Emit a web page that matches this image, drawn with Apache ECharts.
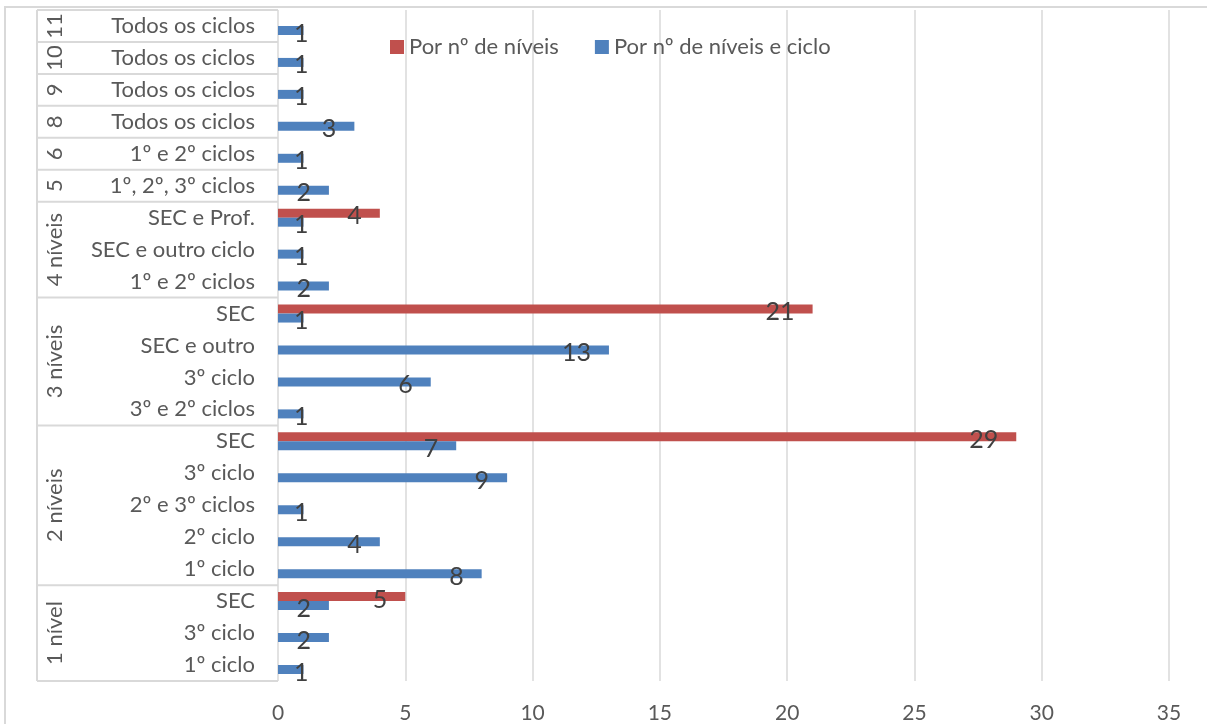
<!DOCTYPE html>
<html>
<head>
<meta charset="utf-8">
<script src="https://cdn.jsdelivr.net/npm/echarts@6/dist/echarts.min.js"></script>
<style>
  html, body { margin: 0; padding: 0; background: #fff; }
  #main { width: 1207px; height: 724px; }
</style>
</head>
<body>
<div id="main"></div>
<script>
  // grupos (nível de cima do eixo) e categorias, de baixo para cima
  const groupLabels = ['1 nível', '2 níveis', '3 níveis', '4 níveis', '5', '6', '8', '9', '10', '11'];
  const groupSizes = [3, 5, 4, 3, 1, 1, 1, 1, 1, 1];
  const subCategories = [
    '1º ciclo', '3º ciclo', 'SEC',
    '1º ciclo', '2º ciclo', '2º e 3º ciclos', '3º ciclo', 'SEC',
    '3º e 2º ciclos', '3º ciclo', 'SEC e outro', 'SEC',
    '1º e 2º ciclos', 'SEC e outro ciclo', 'SEC e Prof.',
    '1º, 2º, 3º ciclos', '1º e 2º ciclos',
    'Todos os ciclos', 'Todos os ciclos', 'Todos os ciclos', 'Todos os ciclos'
  ];
  const seriesNames = ['Por nº de níveis', 'Por nº de níveis e ciclo'];
  const byLevel = [null, null, 5, null, null, null, null, 29, null, null, null, 21, null, null, 4, null, null, null, null, null, null];
  const byLevelCycle = [1, 2, 2, 8, 4, 1, 9, 7, 1, 6, 13, 1, 2, 1, 1, 2, 1, 3, 1, 1, 1];
  const xTicks = { min: 0, max: 35, interval: 5 };

  const FONT = 'Lato';
  const TXT = '#595959';
  const LINE = '#d9d9d9';
  const gridLeft = 278;
  const labelCol = 241;

  // chaves únicas para o eixo de categorias (há nomes repetidos)
  const keys = subCategories.map((s, i) => i + '|' + s);

  const chart = echarts.init(document.getElementById('main'));

  const dataLabel = {
    show: true,
    position: ['100%', '50%'],
    align: 'right',
    verticalAlign: 'middle',
    offset: [-18, 3],
    fontFamily: FONT,
    fontSize: 25,
    color: '#404040'
  };
  const withLabelFix = arr => arr.map(v => v === 1 ? { value: v, label: { offset: [5, 3] } } : v);

  chart.setOption({
    animation: false,
    textStyle: { fontFamily: FONT },
    legend: {
      data: seriesNames,
      left: 385,
      top: 31,
      icon: 'rect',
      itemWidth: 14,
      itemHeight: 14,
      itemGap: 36,
      textStyle: { fontFamily: FONT, fontSize: 22, color: TXT }
    },
    grid: { left: gridLeft, right: 38, top: 10, bottom: 42, containLabel: false },
    xAxis: {
      type: 'value',
      min: xTicks.min,
      max: xTicks.max,
      interval: xTicks.interval,
      axisLine: { show: false },
      axisTick: { show: false },
      axisLabel: { fontFamily: FONT, fontSize: 21, color: TXT, margin: 22 },
      splitLine: { lineStyle: { color: LINE, width: 1.5 } }
    },
    yAxis: {
      type: 'category',
      data: keys,
      axisLine: { show: false },
      axisTick: { show: false },
      axisLabel: {
        fontFamily: FONT, fontSize: 22, color: TXT, margin: 23,
        formatter: v => v.split('|')[1]
      }
    },
    series: [
      {
        name: seriesNames[0],
        type: 'bar',
        data: byLevel,
        barWidth: 9,
        barGap: '0%',
        itemStyle: { color: '#c0504d' },
        label: dataLabel
      },
      {
        name: seriesNames[1],
        type: 'bar',
        data: withLabelFix(byLevelCycle),
        barWidth: 9,
        barGap: '0%',
        itemStyle: { color: '#4f81bd' },
        label: dataLabel
      }
    ]
  });

  // nível de grupos do eixo: linhas separadoras e rótulos rodados
  const yOf = i => chart.convertToPixel({ yAxisIndex: 0 }, keys[i]);
  const band = Math.abs(yOf(0) - yOf(1));
  const colX = gridLeft - labelCol;
  const topY = yOf(keys.length - 1) - band / 2;
  const botY = yOf(0) + band / 2;
  const graphics = [
    { type: 'rect', shape: { x: 5, y: 7, width: 1400, height: 900 }, style: { fill: null, stroke: LINE, lineWidth: 2 }, silent: true },
    { type: 'line', shape: { x1: colX, y1: topY, x2: colX, y2: botY }, style: { stroke: LINE, lineWidth: 2 }, silent: true }
  ];
  let start = 0;
  graphics.push({ type: 'line', shape: { x1: colX, y1: botY, x2: gridLeft, y2: botY }, style: { stroke: LINE, lineWidth: 2 }, silent: true });
  groupLabels.forEach((g, gi) => {
    const end = start + groupSizes[gi] - 1;
    const lo = yOf(start) + band / 2;
    const hi = yOf(end) - band / 2;
    graphics.push({ type: 'line', shape: { x1: colX, y1: hi, x2: gridLeft, y2: hi }, style: { stroke: LINE, lineWidth: 2 }, silent: true });
    graphics.push({
      type: 'text',
      x: colX + 18,
      y: (lo + hi) / 2,
      rotation: Math.PI / 2,
      style: { text: g, fontFamily: FONT, fontSize: 22, fill: TXT, align: 'center', verticalAlign: 'middle' },
      silent: true
    });
    start = end + 1;
  });
  chart.setOption({ graphic: graphics });
</script>
</body>
</html>
